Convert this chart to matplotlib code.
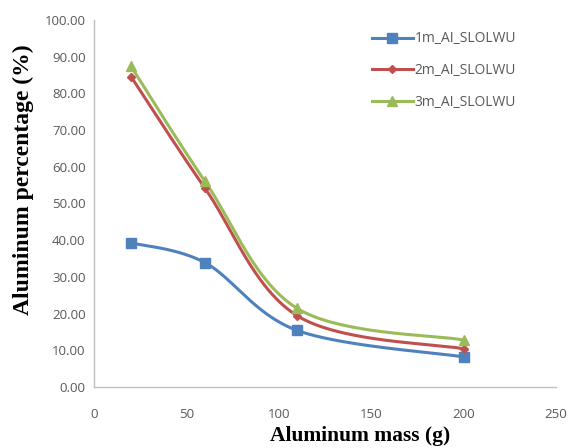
import numpy as np
import matplotlib
matplotlib.use("Agg")
import matplotlib.pyplot as plt
from matplotlib.lines import Line2D

x_mass = [20, 60, 110, 200]
s1 = [39.3, 33.9, 15.4, 8.2]
s2 = [84.6, 54.2, 19.4, 10.4]
s3 = [87.4, 56.1, 21.4, 12.8]
names = ["1m_AI_SLOLWU", "2m_AI_SLOLWU", "3m_AI_SLOLWU"]
colors = ["#4F81BD", "#C0504D", "#9BBB59"]
markers = ["s", "D", "^"]
msizes = [7, 4.5, 7]
x_ticks = [0, 50, 100, 150, 200, 250]
y_ticks = list(range(0, 101, 10))

W, H = 572, 448
fig = plt.figure(figsize=(W/100, H/100), dpi=100)
L, R, T, B = 94, 556, 20, 387
ax = fig.add_axes([L/W, 1-B/H, (R-L)/W, (B-T)/H])
ax.set_xlim(0, 250)
ax.set_ylim(0, 100)

# pixel scale for smoothing (Excel-like bezier in screen space)
sx = (R-L)/250.0
sy = (B-T)/100.0

def smooth(xs, ys, n=60):
    P = np.column_stack([np.array(xs)*sx, np.array(ys)*sy])
    m = len(P)
    out = []
    for i in range(m-1):
        p0 = P[i-1] if i > 0 else P[i]
        p1 = P[i]
        p2 = P[i+1]
        p3 = P[i+2] if i+2 < m else P[i+1]
        c1 = p1 + (p2 - p0)/6.0
        c2 = p2 - (p3 - p1)/6.0
        t = np.linspace(0, 1, n)[:, None]
        seg = (1-t)**3*p1 + 3*(1-t)**2*t*c1 + 3*(1-t)*t**2*c2 + t**3*p2
        out.append(seg if i == 0 else seg[1:])
    pts = np.vstack(out)
    return pts[:, 0]/sx, pts[:, 1]/sy

handles = []
for ys, c, mk, ms, nm in zip([s1, s2, s3], colors, markers, msizes, names):
    xx, yy = smooth(x_mass, ys)
    ax.plot(xx, yy, color=c, lw=2.2, solid_capstyle="round", zorder=2)
    ax.plot(x_mass, ys, ls="none", marker=mk, ms=ms, color=c, mec=c, zorder=3)
    handles.append(Line2D([], [], color=c, lw=2.2, marker=mk, ms=ms, mec=c, label=nm))

ax.set_xticks(x_ticks)
ax.set_yticks(y_ticks)
ax.set_yticklabels([f"{v:.2f}" for v in y_ticks])
for s in ["top", "right"]:
    ax.spines[s].set_visible(False)
for s in ["left", "bottom"]:
    ax.spines[s].set_color("#BFBFBF")
    ax.spines[s].set_linewidth(1.0)
ax.tick_params(axis="both", length=0, labelsize=9.5, labelcolor="#595959")
ax.tick_params(axis="y", pad=6)
ax.tick_params(axis="x", pad=15)
for lab in ax.get_xticklabels() + ax.get_yticklabels():
    lab.set_family("Open Sans")

ax.set_xlabel("Aluminum mass (g)", fontsize=15.5, fontweight="bold", family="Liberation Serif")
ax.set_ylabel("Aluminum percentage (%)", fontsize=17, fontweight="bold", family="Liberation Serif")
ax.xaxis.set_label_coords((360-L)/(R-L), -(436-B)/(B-T))
ax.yaxis.set_label_coords(-(L-23)/(R-L), (B-180)/(B-T))
ax.xaxis.label.set_va("center")
ax.yaxis.label.set_va("center")

leg = ax.legend(handles=handles, loc="upper left", bbox_to_anchor=(359/W, 1-19/H),
                bbox_transform=fig.transFigure, frameon=False,
                handlelength=3.0, labelspacing=1.2, handletextpad=0.1,
                prop={"family": "Open Sans", "size": 10})
for t in leg.get_texts():
    t.set_color("#595959")

fig.savefig("out.png", dpi=100)
